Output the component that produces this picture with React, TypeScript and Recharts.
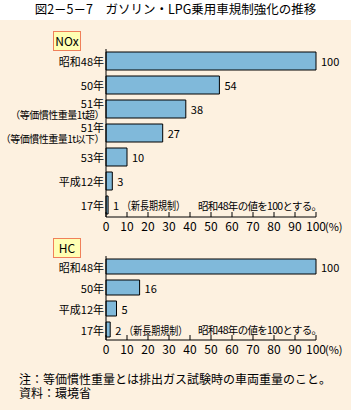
import { BarChart, Bar, XAxis, YAxis, LabelList } from 'recharts'

const TITLE = '図2－5－7　ガソリン・LPG乗用車規制強化の推移'

const NOX_CATEGORIES = [
  '昭和48年',
  '50年',
  '51年\n（等価慣性重量1t超）',
  '51年\n（等価慣性重量1t以下）',
  '53年',
  '平成12年',
  '17年',
]
const NOX_VALUES = [100, 54, 38, 27, 10, 3, 1]
const NOX_NOTES = ['', '', '', '', '', '', '（新長期規制）']

const HC_CATEGORIES = ['昭和48年', '50年', '平成12年', '17年']
const HC_VALUES = [100, 16, 5, 2]
const HC_NOTES = ['', '', '', '（新長期規制）']

const X_TICKS = [0, 10, 20, 30, 40, 50, 60, 70, 80, 90, 100]
const BASE_NOTE = '昭和48年の値を100とする。'
const FOOTNOTES = ['注：等価慣性重量とは排出ガス試験時の車両重量のこと。', '資料：環境省']

const FONT = "'Noto Sans CJK JP', 'Noto Sans', sans-serif"
const BG = '#FDF1E0'
const BAR = '#80B9DA'

function CategoryTick({ x, y, payload }: any) {
  const lines = String(payload.value).split('\n')
  const step = 11.5
  const start = y - ((lines.length - 1) * step) / 2
  return (
    <g>
      {lines.map((l, i) => {
        const long = l.length > 8
        return (
          <text key={i} x={x - 2} y={start + i * step} textAnchor="end" dominantBaseline="central"
            fontSize={long ? 10 : 11} letterSpacing={long ? -0.5 : 0}
            fontFamily={FONT} fill="#000">{l}</text>
        )
      })}
    </g>
  )
}

function ValueTick({ x, y, payload }: any) {
  const last = payload.value === 100
  return (
    <g>
      <line x1={x} x2={x} y1={y - 5} y2={y} stroke="#000" strokeWidth={1} />
      <text x={x} y={y + 14} textAnchor="middle" fontSize={12} fontFamily={FONT} fill="#000">
        {payload.value}
      </text>
      {last && (
        <text x={x + 9} y={y + 14} textAnchor="start" fontSize={11} fontFamily={FONT} fill="#000">
          (%)
        </text>
      )}
    </g>
  )
}

interface ChartProps {
  categories: string[]
  values: number[]
  notes: string[]
  height: number
  barSize: number
}

function HBarChart({ categories, values, notes, height, barSize }: ChartProps) {
  const data = categories.map((name, i) => ({ name, value: values[i], note: notes[i] }))
  return (
    <BarChart layout="vertical" width={351} height={height} data={data}
      margin={{ top: 49, right: 35, left: 0, bottom: 0 }}>
      <XAxis type="number" domain={[0, 100]} ticks={X_TICKS} height={28}
        axisLine={{ stroke: '#000' }} tickLine={false} tickSize={0} tickMargin={0}
        tick={<ValueTick />} interval={0} />
      <YAxis type="category" dataKey="name" width={106}
        axisLine={{ stroke: '#000' }} tickLine={false} tickSize={0} tickMargin={0}
        tick={<CategoryTick />} interval={0} />
      <Bar dataKey="value" fill={BAR} stroke="#000" strokeWidth={1}
        barSize={barSize} isAnimationActive={false}>
        <LabelList dataKey="value" content={(p: any) => {
          const note = data[p.index]?.note
          const tx = p.x + p.width + 5
          const ty = p.y + p.height / 2
          return (
            <g>
              <text x={tx} y={ty} dominantBaseline="central" fontSize={11}
                fontFamily={FONT} fill="#000">{p.value}</text>
              {note ? (
                <text x={tx + 9} y={ty} dominantBaseline="central" fontSize={11}
                  textLength={63} lengthAdjust="spacingAndGlyphs"
                  fontFamily={FONT} fill="#000">{note}</text>
              ) : null}
            </g>
          )
        }} />
      </Bar>
    </BarChart>
  )
}

const boxStyle: React.CSSProperties = {
  position: 'absolute', left: 53, width: 26, height: 18,
  background: '#FFFFB3', border: '1px solid #F0805A',
  fontSize: 12, lineHeight: '18px', textAlign: 'center', color: '#000',
}

const baseNoteStyle: React.CSSProperties = {
  position: 'absolute', left: 198, fontSize: 10.5, letterSpacing: -0.7,
  lineHeight: '16px', color: '#000', whiteSpace: 'nowrap',
}

export default function App() {
  return (
    <div style={{
      position: 'absolute', top: 0, left: 0, width: 351, height: 410,
      background: '#fff', fontFamily: FONT, overflow: 'hidden',
    }}>
      <div style={{
        position: 'absolute', top: 0, left: 0, width: 351, height: 20,
        textAlign: 'center', fontSize: 12.5, lineHeight: '17px', color: '#000',
      }}>{TITLE}</div>
      <div style={{ position: 'absolute', top: 20, left: 0, width: 351, height: 390, background: BG }} />

      {/* NOx */}
      <div style={{ ...boxStyle, top: 31 }}>NOx</div>
      <div style={{ position: 'absolute', top: 0, left: 0 }}>
        <HBarChart categories={NOX_CATEGORIES} values={NOX_VALUES} notes={NOX_NOTES}
          height={245} barSize={18} />
      </div>
      <div style={{ ...baseNoteStyle, top: 198 }}>{BASE_NOTE}</div>

      {/* HC */}
      <div style={{ ...boxStyle, top: 238 }}>HC</div>
      <div style={{ position: 'absolute', top: 207, left: 0 }}>
        <HBarChart categories={HC_CATEGORIES} values={HC_VALUES} notes={HC_NOTES}
          height={161} barSize={15} />
      </div>
      <div style={{ ...baseNoteStyle, top: 322 }}>{BASE_NOTE}</div>

      <div style={{
        position: 'absolute', left: 19, top: 372, fontSize: 12, lineHeight: '14px', color: '#000',
      }}>
        {FOOTNOTES.map(f => <div key={f}>{f}</div>)}
      </div>
    </div>
  )
}
